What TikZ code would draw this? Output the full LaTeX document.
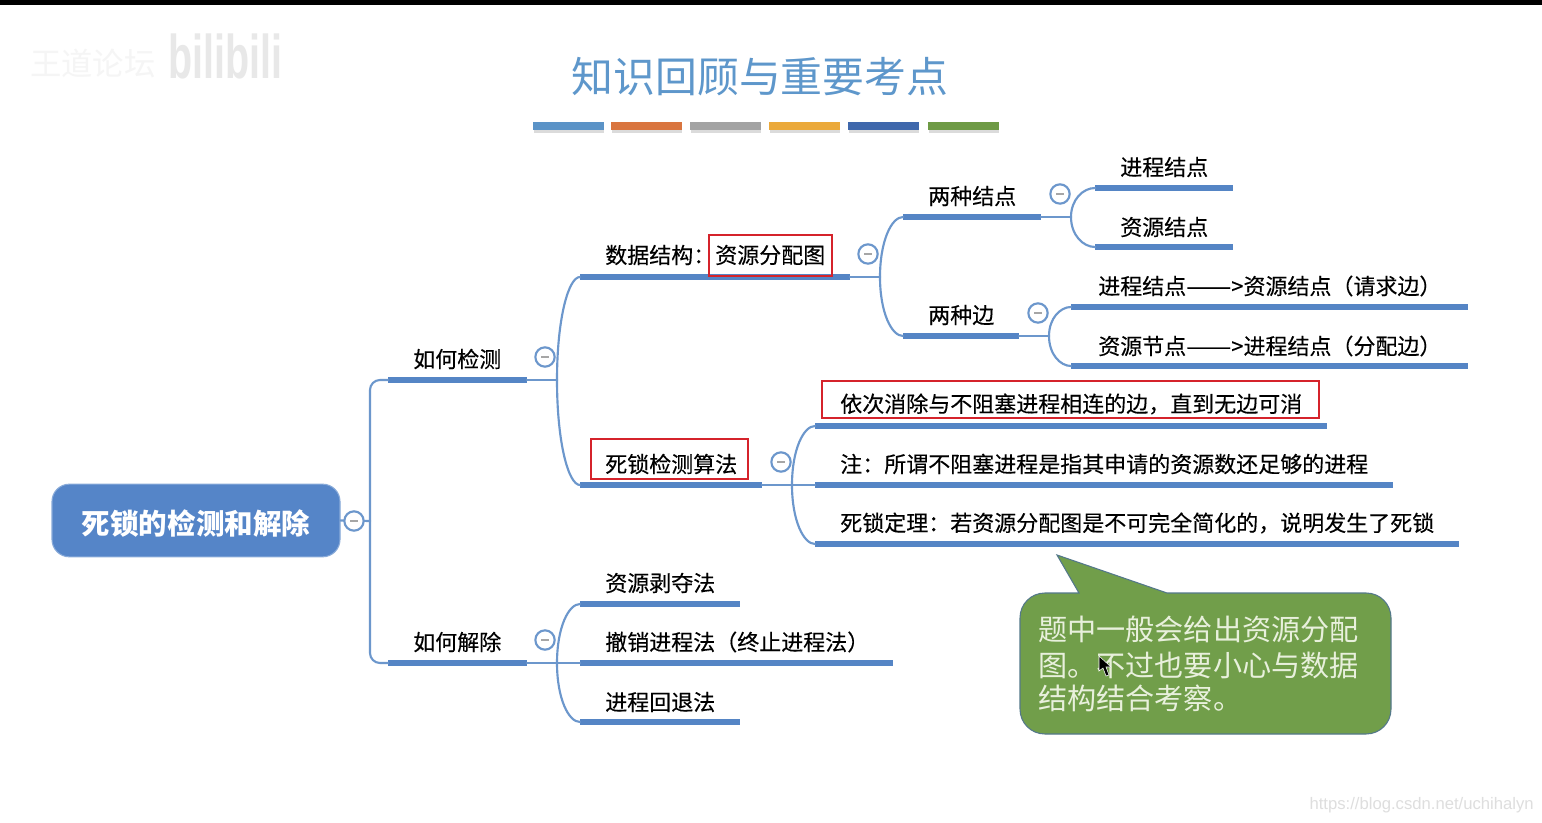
\documentclass[tikz,border=0pt]{standalone}
\usepackage{graphicx}
\usepackage{fontspec}
\setmainfont{Noto Sans CJK SC}
\newfontfamily\latinfont{Liberation Sans}
\newfontfamily\heavycjk[FakeBold=0.25]{Noto Sans CJK SC}
\usetikzlibrary{calc}
\definecolor{mapblue}{HTML}{5585C5}
\definecolor{linkblue}{HTML}{6C97CC}
\definecolor{titleblue}{HTML}{5E97CB}
\definecolor{rootblue}{HTML}{5585C8}
\definecolor{boxred}{HTML}{D5232B}
\definecolor{calloutgreen}{HTML}{719E4A}
\definecolor{calloutedge}{HTML}{54788A}
\definecolor{calltext}{HTML}{E8F0DC}
\tikzset{
  x=0.75pt,y=-0.75pt,
  topicbar/.style={fill=mapblue,inner sep=0pt,minimum height=4.4pt,outer sep=0pt},
  conn/.style={draw=linkblue,line width=1.6pt,line cap=round},
  label/.style={anchor=west,inner sep=0pt,text=black,font=\heavycjk\fontsize{16.5}{18}\selectfont},
  redbox/.style={draw=boxred,line width=1.6pt,inner sep=0pt,anchor=north west},
  collapse/.style={circle,draw=linkblue,line width=1.6pt,fill=white,minimum size=14.5pt,inner sep=0pt,
    path picture={\draw[gray!70,line width=1.3pt] ($(path picture bounding box.center)+(-4,0)$) -- ($(path picture bounding box.center)+(4,0)$);}},
  swatch/.style={inner sep=0pt,minimum height=6pt,minimum width=53pt},
  callline/.style={anchor=west,inner sep=0pt,text=calltext,font=\fontsize{21.85}{24}\selectfont}
}
\newcommand{\topicbar}[4]{\node[topicbar,minimum width={0.75*(#3-#2)*1pt}] (#1) at ({(#2+#3)/2},#4) {};}
\newcommand{\branchto}[2]{\draw[conn] (#1) .. controls ($(#1)!0.6!(#1|-#2.west)$) and ($(#2.west)!0.5!(#2.west-|#1)$) .. (#2.west);}
\newcommand{\longdash}{\scalebox{1.22}[1]{——}}
\begin{document}
\begin{tikzpicture}
\useasboundingbox (0,0) rectangle (1542,823);
\fill[white] (0,0) rectangle (1542,823);
\fill[black] (0,0) rectangle (1542,5);

% watermarks
\node[anchor=west,inner sep=0pt,text=black!4,font=\fontsize{23.5}{24}\selectfont] (wmA) at (30,63) {王道论坛};
\node[anchor=west,inner sep=0pt,text=black!9,font=\latinfont\bfseries\fontsize{37}{38}\selectfont] (wmB) at (168,56) {\scalebox{0.8}[1.25]{bilibili}};
\node[anchor=east,inner sep=0pt,text=black!13,font=\latinfont\fontsize{12.5}{14}\selectfont] (wmC) at (1534,805) {https://blog.csdn.net/uchihalyn};

% title and colour strip
\node[inner sep=0pt,text=titleblue,font=\fontsize{31.4}{34}\selectfont] (title) at (760,77) {知识回顾与重要考点};
\foreach \n/\xa/\c in {sA/533/5B93C7,sB/611/D9753F,sC/690/A3A3A3,sD/769/EBA93A,sE/848/3F68AC,sF/928/6E9A45}{
  \definecolor{swc}{HTML}{\c}
  \fill[black!14] (\xa+1,130) rectangle (\xa+71,133);
  \node[swatch,anchor=north west,fill=swc] (\n) at (\xa,122) {};
}

% root
\node[rounded corners=13pt,fill=rootblue,draw=rootblue!70!white,line width=0.8pt,minimum width=216pt,minimum height=54.5pt,inner sep=0pt] (root) at (196,520.5) {};
\node[inner sep=0pt,text=white,font=\bfseries\fontsize{21.4}{24}\selectfont] (rootText) at (196,523) {死锁的检测和解除};

% bars
\topicbar{detect}{388}{527}{380}
\topicbar{resolve}{388}{527}{663}
\topicbar{ds}{580}{850}{277}
\topicbar{algo}{580}{762}{485}
\topicbar{nodes}{903}{1041}{217}
\topicbar{edges}{903}{1019}{336}
\topicbar{pnode}{1095}{1233}{188}
\topicbar{rnode}{1095}{1233}{247}
\topicbar{reqedge}{1071}{1468}{307}
\topicbar{asgedge}{1071}{1468}{366}
\topicbar{stepa}{815}{1327}{426}
\topicbar{stepb}{815}{1393}{485}
\topicbar{stepc}{815}{1459}{544}
\topicbar{preempt}{580}{740}{604}
\topicbar{kill}{580}{893}{663}
\topicbar{rollback}{580}{740}{722}

% junctions
\coordinate (jroot) at (370,521);
\coordinate (jdetect) at (557,380);
\coordinate (jresolve) at (557,663);
\coordinate (jds) at (880,277);
\coordinate (jalgo) at (792,485);
\coordinate (jnodes) at (1071,217);
\coordinate (jedges) at (1049,336);

% connectors
\draw[conn,rounded corners=7.5pt] (detect.west) -| (jroot);
\draw[conn,rounded corners=7.5pt] (resolve.west) -| (jroot);
\draw[conn] (root.east) -- (jroot);
\draw[conn] (detect.east) -- (jdetect);
\branchto{jdetect}{ds}
\branchto{jdetect}{algo}
\draw[conn] (resolve.east) -- (jresolve);
\branchto{jresolve}{preempt}
\branchto{jresolve}{rollback}
\draw[conn] (jresolve) -- (kill.west);
\draw[conn] (ds.east) -- (jds);
\branchto{jds}{nodes}
\branchto{jds}{edges}
\draw[conn] (algo.east) -- (jalgo);
\branchto{jalgo}{stepa}
\branchto{jalgo}{stepc}
\draw[conn] (jalgo) -- (stepb.west);
\draw[conn] (nodes.east) -- (jnodes);
\branchto{jnodes}{pnode}
\branchto{jnodes}{rnode}
\draw[conn] (edges.east) -- (jedges);
\branchto{jedges}{reqedge}
\branchto{jedges}{asgedge}

% collapse marks
\node[collapse] (cRoot) at (354,521) {};
\node[collapse] (cDetect) at (545,357) {};
\node[collapse] (cResolve) at (545,640) {};
\node[collapse] (cDs) at (868,254) {};
\node[collapse] (cAlgo) at (781,462) {};
\node[collapse] (cNodes) at (1060,194) {};
\node[collapse] (cEdges) at (1038,313) {};

% labels
\node[label] (tDetect) at (413,359) {如何检测};
\node[label] (tResolve) at (413,642) {如何解除};
\node[label] (tDs) at (605,255) {数据结构：};
\node[label] (tMap) at (715,255) {资源分配图};
\node[label] (tAlgo) at (605,464) {死锁检测算法};
\node[label] (tNodes) at (928,196) {两种结点};
\node[label] (tEdges) at (928,315) {两种边};
\node[label] (tP) at (1120,167) {进程结点};
\node[label] (tR) at (1120,227) {资源结点};
\node[label] (tReq) at (1098,286) {进程结点\longdash>资源结点（请求边）};
\node[label] (tAsg) at (1098,346) {资源节点\longdash>进程结点（分配边）};
\node[label] (tA) at (840,404) {依次消除与不阻塞进程相连的边，直到无边可消};
\node[label] (tB) at (840,464) {注：所谓不阻塞进程是指其申请的资源数还足够的进程};
\node[label] (tC) at (840,523) {死锁定理：若资源分配图是不可完全简化的，说明发生了死锁};
\node[label] (tPre) at (605,583) {资源剥夺法};
\node[label] (tKill) at (605,642) {撤销进程法（终止进程法）};
\node[label] (tRoll) at (605,702) {进程回退法};

% red boxes
\node[redbox,minimum width=92pt,minimum height=30.5pt] (rMap) at (708,234) {};
\node[redbox,minimum width=117.5pt,minimum height=30pt] (rAlgo) at (590,438) {};
\node[redbox,minimum width=372.5pt,minimum height=27.5pt] (rA) at (821,380) {};

% callout
\draw[fill=calloutgreen,draw=calloutedge,line width=0.8pt]
  (1057,555) -- (1167,593) -- (1366,593) .. controls (1380,593) and (1391,604) .. (1391,618)
  -- (1391,709) .. controls (1391,723) and (1380,734) .. (1366,734)
  -- (1045,734) .. controls (1031,734) and (1020,723) .. (1020,709)
  -- (1020,618) .. controls (1020,604) and (1031,593) .. (1045,593)
  -- (1079,593) -- cycle;
\node[callline] (cA) at (1038,629) {题中一般会给出资源分配};
\node[callline] (cB) at (1038,665) {图。不过也要小心与数据};
\node[callline] (cC) at (1038,698) {结构结合考察。};
% mouse pointer
\fill[black,draw=white,line width=0.4pt] (1099,656) -- (1099,671) -- (1103,668) -- (1106,676) -- (1109,675) -- (1106,667) -- (1111,667) -- cycle;
\end{tikzpicture}
\end{document}
